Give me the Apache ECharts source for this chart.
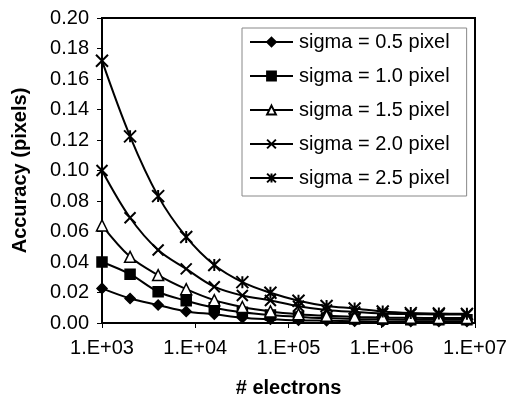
<!DOCTYPE html>
<html>
<head>
<meta charset="utf-8">
<script src="https://cdn.jsdelivr.net/npm/echarts@6/dist/echarts.min.js"></script>
<style>
html,body{margin:0;padding:0;background:#fff;}
#c{width:510px;height:403px;}
</style>
</head>
<body>
<div id="c"></div>
<script>
// ---- data ----
const electrons = [1000, 2000, 4000, 8000, 16000, 32000, 64000, 128000, 256000, 512000, 1024000, 2048000, 4096000, 8192000];
const sigma05 = [0.0227, 0.0161, 0.0118, 0.0076, 0.0057, 0.0035, 0.0025, 0.0018, 0.0015, 0.0012, 0.0010, 0.0010, 0.0010, 0.0010];
const sigma10 = [0.0400, 0.0320, 0.0205, 0.0146, 0.0100, 0.0070, 0.0052, 0.0040, 0.0032, 0.0027, 0.0024, 0.0022, 0.0021, 0.0021];
const sigma15 = [0.0640, 0.0434, 0.0314, 0.0222, 0.0150, 0.0105, 0.0076, 0.0058, 0.0047, 0.0040, 0.0036, 0.0034, 0.0033, 0.0033];
const sigma20 = [0.1000, 0.0690, 0.0479, 0.0355, 0.0238, 0.0180, 0.0148, 0.0110, 0.0085, 0.0072, 0.0062, 0.0058, 0.0056, 0.0055];
const sigma25 = [0.1720, 0.1224, 0.0832, 0.0564, 0.0380, 0.0268, 0.0198, 0.0146, 0.0112, 0.0095, 0.0075, 0.0065, 0.0062, 0.0060];
const seriesNames = ['sigma = 0.5 pixel', 'sigma = 1.0 pixel', 'sigma = 1.5 pixel', 'sigma = 2.0 pixel', 'sigma = 2.5 pixel'];
const xTickLabels = ['1.E+03', '1.E+04', '1.E+05', '1.E+06', '1.E+07'];
const xTickValues = [1000, 10000, 100000, 1000000, 10000000];
const yTitle = 'Accuracy (pixels)';
const xTitle = '# electrons';

// ---- styling ----
const FONT = 'Liberation Sans, Arial, sans-serif';
const xPath = 'path://M0,0L10,10M10,0L0,10';
const starPath = 'path://M0,0L10,10M10,0L0,10M5,0L5,10';
const valueSets = [sigma05, sigma10, sigma15, sigma20, sigma25];
const symbols = ['diamond', 'rect', 'triangle', xPath, starPath];
const symSizes = [10, 10, 11, 11, 12];
const fills = ['#000', '#000', '#fff', '#000', '#000'];

const series = valueSets.map((vals, i) => ({
  name: seriesNames[i],
  type: 'line',
  smooth: 0.35,
  data: electrons.map((e, j) => [e, vals[j]]),
  symbol: symbols[i],
  symbolSize: symSizes[i],
  showAllSymbol: true,
  lineStyle: {color: '#000', width: 2},
  itemStyle: {color: fills[i], borderColor: '#000', borderWidth: (i >= 3 ? 2 : 1.5)},
  z: 2 + i
}));

const chart = echarts.init(document.getElementById('c'), null, {renderer: 'canvas'});
chart.setOption({
  animation: false,
  backgroundColor: '#fff',
  textStyle: {fontFamily: FONT},
  grid: {left: 102, top: 18, right: 35, bottom: 79, show: true, borderColor: '#000', borderWidth: 2},
  legend: {
    orient: 'vertical',
    left: 242, top: 28,
    padding: [4, 17, 8, 7],
    itemGap: 14,
    itemWidth: 43, itemHeight: 11,
    backgroundColor: '#fff',
    borderColor: '#888', borderWidth: 1,
    textStyle: {fontFamily: FONT, fontSize: 20, color: '#000', padding: [0, 0, 0, 1]},
    data: seriesNames
  },
  xAxis: {
    type: 'log', logBase: 10, min: xTickValues[0], max: xTickValues[xTickValues.length - 1],
    name: xTitle, nameLocation: 'middle', nameGap: 55,
    nameTextStyle: {fontFamily: FONT, fontSize: 20, fontWeight: 'bold', color: '#000'},
    axisLine: {lineStyle: {color: '#000', width: 2}},
    axisTick: {show: true, inside: false, length: 5, lineStyle: {color: '#000', width: 1}},
    minorTick: {show: false},
    splitLine: {show: false},
    axisLabel: {
      margin: 15, fontFamily: FONT, fontSize: 20, color: '#000',
      formatter: v => { const k = xTickValues.findIndex(t => Math.abs(Math.log10(t) - Math.log10(v)) < 1e-6); return k >= 0 ? xTickLabels[k] : ''; }
    }
  },
  yAxis: {
    type: 'value', min: 0, max: 0.2, interval: 0.02,
    name: yTitle, nameLocation: 'middle', nameGap: 72, nameRotate: 90,
    nameTextStyle: {fontFamily: FONT, fontSize: 20, fontWeight: 'bold', color: '#000'},
    axisLine: {show: true, lineStyle: {color: '#000', width: 2}},
    axisTick: {show: true, inside: false, length: 5, lineStyle: {color: '#000', width: 1}},
    splitLine: {show: false},
    axisLabel: {margin: 13, fontFamily: FONT, fontSize: 20, color: '#000', formatter: v => v.toFixed(2)}
  },
  series: series
});
</script>
</body>
</html>
